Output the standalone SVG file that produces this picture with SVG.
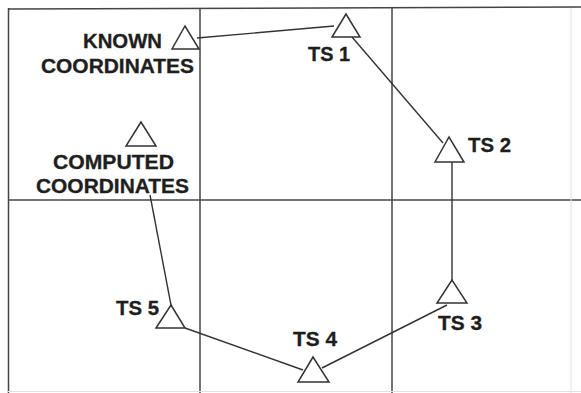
<svg xmlns="http://www.w3.org/2000/svg" width="581" height="393" viewBox="0 0 581 393">
<style>
.grid{stroke:#444;stroke-width:1.5;fill:none}
.faint{stroke:#e2e2e2;stroke-width:1;fill:none}
.conn{stroke:#333;stroke-width:1.4;fill:none}
.tri{fill:#fff;stroke:#333;stroke-width:1.5;stroke-linejoin:miter}
.lbl{font-family:"Liberation Sans",Arial,sans-serif;font-weight:bold;font-size:19.5px;fill:#1e1e1e;stroke:#1e1e1e;stroke-width:0.3}
</style>
<rect width="581" height="393" fill="#fff"/>
<g id="grid">
<line class="grid" x1="8.5" y1="9" x2="581" y2="7"/>
<line class="grid" x1="8.5" y1="8" x2="8.5" y2="393"/>
<line class="grid" x1="200" y1="8" x2="200" y2="393"/>
<line class="grid" x1="392" y1="8" x2="392" y2="393"/>
<line class="grid" x1="8" y1="200" x2="581" y2="200"/>
<line class="faint" x1="571" y1="8" x2="571" y2="393"/>
<line class="faint" x1="8" y1="391.5" x2="581" y2="391.5"/>
</g>
<g id="connectors">
<line class="conn" x1="197" y1="38" x2="334" y2="26"/>
<line class="conn" x1="352" y1="37" x2="443" y2="143"/>
<line class="conn" x1="452" y1="162" x2="452" y2="280"/>
<line class="conn" x1="447" y1="305" x2="322" y2="368"/>
<line class="conn" x1="185" y1="328" x2="303" y2="370"/>
<line class="conn" x1="171" y1="305" x2="150" y2="195"/>
</g>
<g id="known">
<polygon class="tri" points="185,26 172,49 199,49"/>
<text class="lbl" x="83" y="48" textLength="79" lengthAdjust="spacingAndGlyphs">KNOWN</text>
<text class="lbl" x="41" y="73" textLength="153" lengthAdjust="spacingAndGlyphs">COORDINATES</text>
</g>
<g id="computed">
<polygon class="tri" points="141,122 126,146 156,146"/>
<text class="lbl" x="53" y="169" textLength="121" lengthAdjust="spacingAndGlyphs">COMPUTED</text>
<text class="lbl" x="36" y="193" textLength="153" lengthAdjust="spacingAndGlyphs">COORDINATES</text>
</g>
<g id="ts1">
<polygon class="tri" points="346,14 332,37 360,37"/>
<text class="lbl" x="308" y="61" textLength="42" lengthAdjust="spacingAndGlyphs">TS 1</text>
</g>
<g id="ts2">
<polygon class="tri" points="449,137 435,162 464,162"/>
<text class="lbl" x="468" y="152" textLength="43" lengthAdjust="spacingAndGlyphs">TS 2</text>
</g>
<g id="ts3">
<polygon class="tri" points="452,280 437,303 467,303"/>
<text class="lbl" x="438" y="330" textLength="44" lengthAdjust="spacingAndGlyphs">TS 3</text>
</g>
<g id="ts4">
<polygon class="tri" points="313,357 298,382 329,382"/>
<text class="lbl" x="293" y="346" textLength="44" lengthAdjust="spacingAndGlyphs">TS 4</text>
</g>
<g id="ts5">
<polygon class="tri" points="171,305 156,328 185,328"/>
<text class="lbl" x="116" y="315" textLength="43" lengthAdjust="spacingAndGlyphs">TS 5</text>
</g>
</svg>
